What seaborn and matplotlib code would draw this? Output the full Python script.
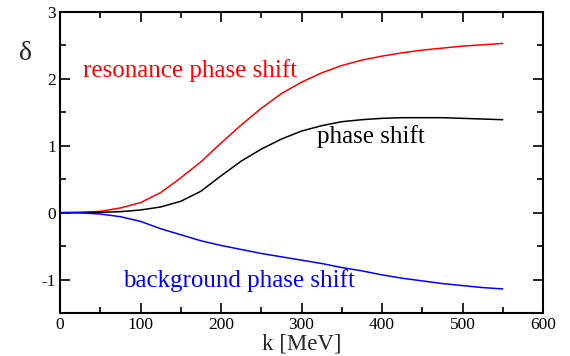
import matplotlib
matplotlib.use("Agg")
import matplotlib.pyplot as plt
import seaborn as sns
import pandas as pd
from matplotlib.ticker import MultipleLocator

k = [0, 25, 50, 75, 100, 125, 150, 175, 200, 225, 250, 275, 300,
     325, 350, 375, 400, 425, 450, 475, 500, 525, 550]
resonance = [0.0, 0.005, 0.02, 0.07, 0.15, 0.30, 0.52, 0.76, 1.04, 1.31, 1.56, 1.78, 1.95,
             2.09, 2.20, 2.28, 2.34, 2.39, 2.43, 2.46, 2.49, 2.51, 2.53]
total = [0.0, 0.002, 0.005, 0.015, 0.04, 0.085, 0.17, 0.32, 0.55, 0.77, 0.95, 1.10, 1.22,
         1.30, 1.36, 1.39, 1.41, 1.42, 1.42, 1.42, 1.41, 1.40, 1.39]
background = [0.0, -0.003, -0.02, -0.06, -0.13, -0.24, -0.33, -0.42, -0.49, -0.55, -0.61, -0.66, -0.71,
              -0.76, -0.82, -0.87, -0.93, -0.98, -1.02, -1.06, -1.09, -1.12, -1.14]

series_names = ["resonance phase shift", "phase shift", "background phase shift"]
series_colors = ["#ff0000", "#000000", "#0000ff"]
xticks = [0, 100, 200, 300, 400, 500, 600]
yticks = [-1, 0, 1, 2, 3]

df = pd.concat([
    pd.DataFrame({"k": k, "delta": resonance, "series": series_names[0]}),
    pd.DataFrame({"k": k, "delta": total, "series": series_names[1]}),
    pd.DataFrame({"k": k, "delta": background, "series": series_names[2]}),
])

sns.set_theme(style="ticks")
plt.rcParams["font.family"] = ["Liberation Serif", "DejaVu Serif"]
plt.rcParams["axes.unicode_minus"] = False

fig = plt.figure(figsize=(5.7, 3.56), dpi=100)
ax = fig.add_axes([60 / 570, 1 - 313 / 356, (543 - 60) / 570, (313 - 12) / 356])

sns.lineplot(data=df, x="k", y="delta", hue="series", hue_order=series_names,
             palette=dict(zip(series_names, series_colors)), linewidth=1.1,
             legend=False, ax=ax, sort=False)

ax.set_xlim(0, 600)
ax.set_ylim(-1.5, 3)
ax.set_xticks(xticks)
ax.set_yticks(yticks)
ax.xaxis.set_minor_locator(MultipleLocator(50))
ax.yaxis.set_minor_locator(MultipleLocator(0.5))
ax.tick_params(which="both", direction="in", top=True, right=True, width=1.2, colors="black",
               labelsize=12.5, pad=3)
ax.tick_params(which="major", length=7)
ax.tick_params(which="minor", length=4)
for s in ax.spines.values():
    s.set_linewidth(1.5)
    s.set_color("black")

ax.set_xlabel("k [MeV]", fontsize=16.5, labelpad=0)
ax.set_ylabel("")
fig.text(25 / 570, 1 - 54 / 356, "δ", fontsize=20, ha="center", va="center")

ax.text(28, 2.03, series_names[0], color=series_colors[0], fontsize=18, ha="left", va="baseline")
ax.text(319, 1.04, series_names[1], color=series_colors[1], fontsize=18, ha="left", va="baseline")
ax.text(78, -1.11, series_names[2], color=series_colors[2], fontsize=18, ha="left", va="baseline")

fig.savefig("out.png", dpi=100)
